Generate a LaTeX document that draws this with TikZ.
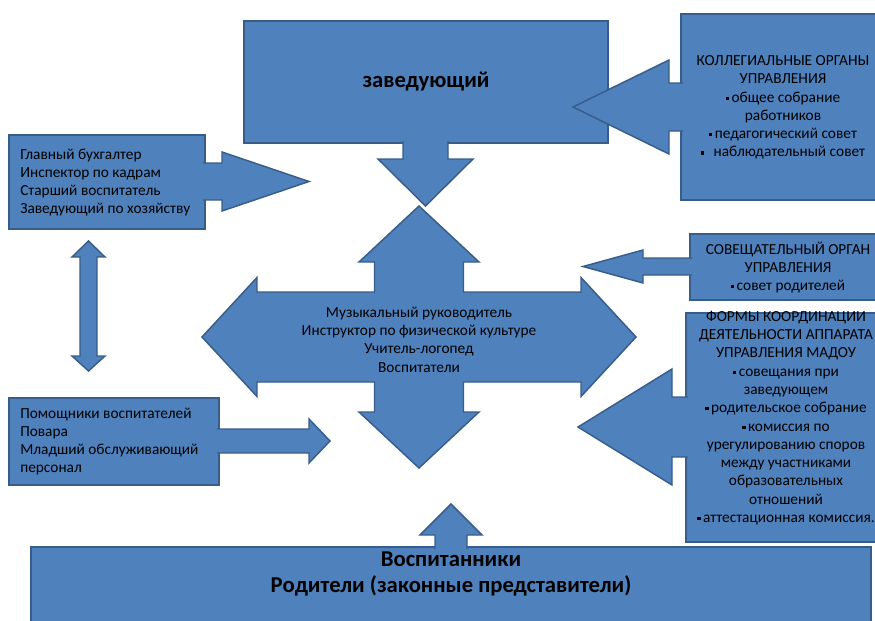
\documentclass[tikz,border=0pt]{standalone}
\usepackage{fontspec}
\setmainfont{Carlito}
\definecolor{blkfill}{RGB}{79,129,189}
\definecolor{blkline}{RGB}{56,93,138}
\newcommand{\blt}{\raisebox{1.7pt}{\rule{2.4pt}{2.4pt}}\,}

\begin{document}
\begin{tikzpicture}[x=0.75pt,y=0.75pt,yscale=-1,xscale=1,
  blk/.style={draw=blkline,fill=blkfill,line width=1.1pt,line join=miter},
  txt/.style={inner sep=0.75pt,font=\fontsize{11.5}{13.7}\selectfont},
  bigtxt/.style={inner sep=0.75pt,font=\fontsize{17}{19.5}\selectfont\bfseries,align=center}]
\useasboundingbox (0,0) rectangle (875,621);
\clip (0,0) rectangle (875,621);

%Shape: Rectangle [zaved]
\draw [blk] (244,21) rectangle (608,143);
%Shape: Rectangle [admin]
\draw [blk] (9,135) rectangle (205,229);
%Shape: Rectangle [staff]
\draw [blk] (9,398) rectangle (219,485);
%Shape: Rectangle [kolleg]
\draw [blk] (681,14) rectangle (885,200);
%Shape: Rectangle [sovet]
\draw [blk] (690,234) rectangle (885,300);
%Shape: Rectangle [formy]
\draw [blk] (686,313) rectangle (885,542);
%Shape: Rectangle [pupils]
\draw [blk] (31,547) rectangle (871,640);

%Block Arrow: down from zaved
\draw [blk] (403,141) -- (403,159) -- (378,159) -- (425.5,206) -- (473,159) -- (448,159) -- (448,141);
%Block Arrow: admin to centre
\draw [blk] (203,163) -- (222,163) -- (222,152) -- (309,181.5) -- (222,211) -- (222,200) -- (203,200);
%Block Arrow: staff to centre
\draw [blk] (217,429) -- (309,429) -- (309,419) -- (330,441) -- (309,463) -- (309,453) -- (217,453);
%Block Arrow: up and down between left boxes
\draw [blk] (88.5,241) -- (105,257) -- (97,257) -- (97,356) -- (105,356) -- (88.5,371) -- (72,356) -- (80,356) -- (80,257) -- (72,257) -- cycle;
%Block Arrow: kolleg to zaved
\draw [blk] (683,83) -- (669,83) -- (669,60) -- (573,107) -- (669,154) -- (669,131) -- (683,131);
%Block Arrow: sovet to centre
\draw [blk] (692,258) -- (643,258) -- (643,250) -- (583,266.5) -- (643,283) -- (643,275) -- (692,275);
%Block Arrow: formy to centre
\draw [blk] (688,397) -- (672,397) -- (672,369) -- (578,427) -- (672,485) -- (672,457) -- (688,457);
%Block Arrow: pupils up
\draw [blk] (435,549) -- (435,535) -- (420,535) -- (451,504) -- (482,535) -- (467,535) -- (467,549);
%Block Arrow: four-way cross
\draw [blk] (419,206) -- (479,262) -- (463.5,262) -- (463.5,292) -- (581,292) -- (581,277.5) -- (636,337) -- (581,396.5) -- (581,382) -- (463.5,382) -- (463.5,412) -- (479,412) -- (419,468) -- (359,412) -- (374.5,412) -- (374.5,382) -- (257,382) -- (257,396.5) -- (202,337) -- (257,277.5) -- (257,292) -- (374.5,292) -- (374.5,262) -- (359,262) -- cycle;

% Text Node
\node [bigtxt] (zavtxt) at (426,82) {заведующий};
% Text Node
\node [txt,anchor=west,align=left] (admintxt) at (19,182.5) {Главный бухгалтер\\Инспектор по кадрам\\Старший воспитатель\\Заведующий по хозяйству};
% Text Node
\node [txt,anchor=west,align=left] (stafftxt) at (19,441.5) {Помощники воспитателей\\Повара\\Младший обслуживающий\\персонал};
% Text Node
\node [txt,align=center] (centretxt) at (419,339.5) {Музыкальный руководитель\\Инструктор по физической культуре\\Учитель-логопед\\Воспитатели};
% Text Node
\node [txt,align=center] (kollegtxt) at (783,107.5) {КОЛЛЕГИАЛЬНЫЕ ОРГАНЫ\\УПРАВЛЕНИЯ\\\blt общее собрание\\работников\\\blt педагогический совет\\\blt\ \ наблюдательный совет};
% Text Node
\node [txt,align=center] (sovettxt) at (788,267.5) {СОВЕЩАТЕЛЬНЫЙ ОРГАН\\УПРАВЛЕНИЯ\\\blt совет родителей};
% Text Node
\node [txt,align=center] (formytxt) at (786,418) {ФОРМЫ КООРДИНАЦИИ\\ДЕЯТЕЛЬНОСТИ АППАРАТА\\УПРАВЛЕНИЯ МАДОУ\\\blt совещания при\\заведующем\\\blt родительское собрание\\\blt комиссия по\\урегулированию споров\\между участниками\\образовательных\\отношений\\\blt аттестационная комиссия.};
% Text Node
\node [bigtxt] (pupilstxt) at (451,574) {Воспитанники\\Родители (законные представители)};

\end{tikzpicture}
\end{document}
